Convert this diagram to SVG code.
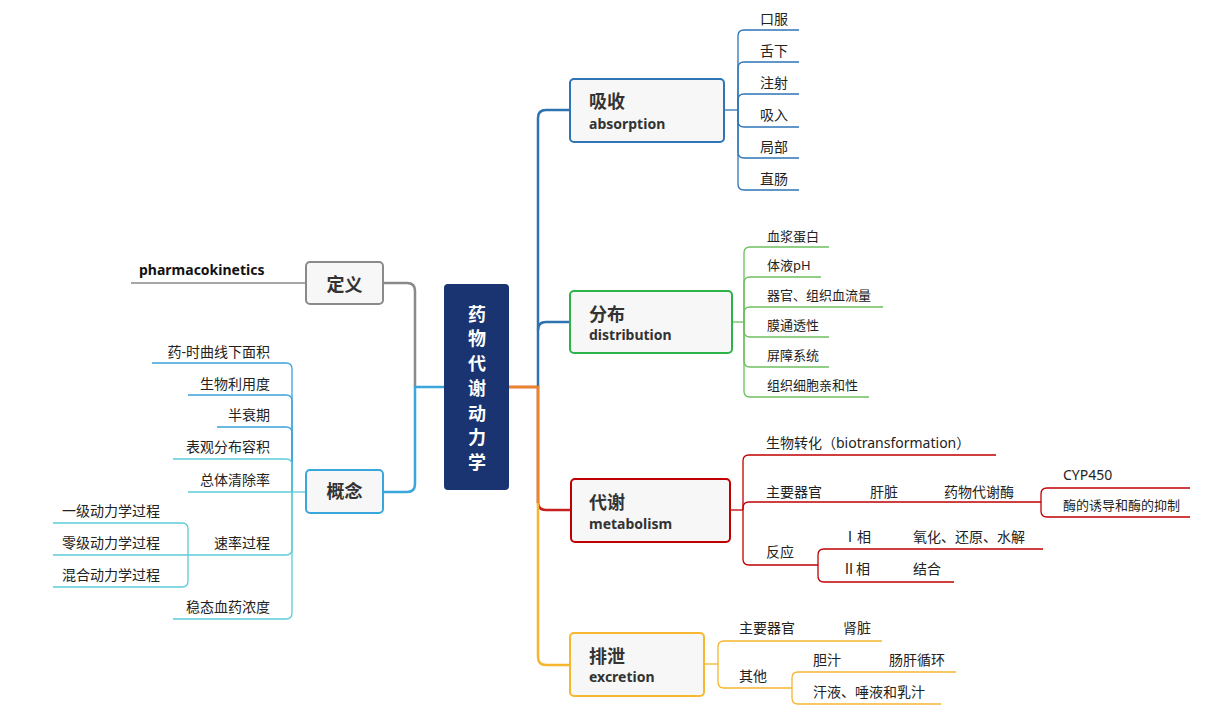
<svg xmlns="http://www.w3.org/2000/svg" width="1205" height="719" viewBox="0 0 1205 719">
<style>
text{font-family:"Noto Sans","Noto Sans CJK SC",sans-serif;fill:#222}
.leaf{font-size:14px}
.small{font-size:13px}
.t1{font-size:18px;font-weight:bold;fill:#333}
.t2{font-size:14px;font-weight:bold;fill:#333}
.box{fill:#f7f7f7;stroke-width:2}
.ln{fill:none;stroke-width:1.3}
.tr{fill:none;stroke-width:2.5}
.end{text-anchor:end}
</style>
<rect width="1205" height="719" fill="#fff"/>
<g id="connectors">
  <!-- trunk right -->
  <path class="tr" stroke="#2e72b0" d="M538,387 V118 Q538,110 546,110 H570"/>
  <path class="tr" stroke="#2e72b0" d="M538,330 Q538,322 546,322 H570"/>
  <path class="tr" stroke="#c62020" d="M509,387 H538 V502 Q538,510 546,510 H571"/>
  <path class="tr" stroke="#f5b52e" d="M538,500 V657 Q538,665 546,665 H570"/>
  <path class="tr" stroke="#e8852a" d="M509,387 H538 V503"/>
  <!-- trunk left -->
  <path class="tr" stroke="#8a8a8a" d="M383,283 H407 Q415,283 415,291 V387"/>
  <path class="tr" stroke="#3aa7dc" d="M444,387 H415 V484 Q415,492 407,492 H383"/>
  <!-- absorption leaves -->
  <g stroke="#2e75b6" class="ln">
    <path class="ln" d="M724,110 H738"/>
    <path class="ln" d="M738,110 V36 Q738,30 744,30 H799"/>
    <path class="ln" d="M738,110 V68 Q738,62 744,62 H799"/>
    <path class="ln" d="M738,110 V100 Q738,94 744,94 H799"/>
    <path class="ln" d="M738,110 V121 Q738,127 744,127 H799"/>
    <path class="ln" d="M738,110 V152 Q738,158 744,158 H799"/>
    <path class="ln" d="M738,110 V184 Q738,190 744,190 H799"/>
  </g>
  <!-- distribution leaves -->
  <g stroke="#6dbf5f" class="ln">
    <path class="ln" d="M732,322 H744"/>
    <path class="ln" d="M744,322 V253 Q744,247 750,247 H829"/>
    <path class="ln" d="M744,322 V283 Q744,277 750,277 H821"/>
    <path class="ln" d="M744,322 V313 Q744,307 750,307 H883"/>
    <path class="ln" d="M744,322 V331 Q744,337 750,337 H829"/>
    <path class="ln" d="M744,322 V361 Q744,367 750,367 H829"/>
    <path class="ln" d="M744,322 V391 Q744,397 750,397 H869"/>
  </g>
  <!-- metabolism -->
  <g stroke="#c00000" class="ln">
    <path class="ln" d="M730,510 H743"/>
    <path class="ln" d="M743,510 V461 Q743,455 749,455 H996"/>
    <path class="ln" d="M743,510 V508 Q743,502 749,502 H1041"/>
    <path class="ln" d="M743,510 V559 Q743,565 749,565 H818"/>
    <path class="ln" d="M1041,502 V494 Q1041,488 1047,488 H1190"/>
    <path class="ln" d="M1041,502 V511 Q1041,517 1047,517 H1190"/>
    <path class="ln" d="M818,565 V555 Q818,549 824,549 H1043"/>
    <path class="ln" d="M818,565 V576 Q818,582 824,582 H954"/>
  </g>
  <!-- excretion -->
  <g stroke="#f5b52e" class="ln">
    <path class="ln" d="M704,664 H718"/>
    <path class="ln" d="M718,664 V647 Q718,641 724,641 H882"/>
    <path class="ln" d="M718,664 V682 Q718,688 724,688 H792"/>
    <path class="ln" d="M792,688 V678 Q792,672 798,672 H956"/>
    <path class="ln" d="M792,688 V698 Q792,704 798,704 H941"/>
  </g>
  <!-- definition -->
  <path class="ln" stroke="#8a8a8a" d="M306,283 H131"/>
  <!-- concept leaves -->
  <g class="ln">
    <path class="ln" stroke="#5ccbd8" d="M306,492 H292"/>
    <path class="ln" stroke="#3aa3dc" d="M292,492 V369 Q292,363 286,363 H152"/>
    <path class="ln" stroke="#3aa3dc" d="M292,492 V401 Q292,395 286,395 H188"/>
    <path class="ln" stroke="#3aa3dc" d="M292,492 V433 Q292,427 286,427 H217"/>
    <path class="ln" stroke="#5ccbd8" d="M292,492 V465 Q292,459 286,459 H173"/>
    <path class="ln" stroke="#5ccbd8" d="M292,492 H188"/>
    <path class="ln" stroke="#5ccbd8" d="M292,492 V549 Q292,555 286,555 H188"/>
    <path class="ln" stroke="#5ccbd8" d="M292,492 V613 Q292,619 286,619 H173"/>
    <path class="ln" stroke="#5ccbd8" d="M188,555 V529 Q188,523 182,523 H53"/>
    <path class="ln" stroke="#5ccbd8" d="M188,555 H53"/>
    <path class="ln" stroke="#5ccbd8" d="M188,555 V581 Q188,587 182,587 H53"/>
  </g>
</g>
<g id="center">
  <rect x="444" y="284" width="65" height="206" rx="4" fill="#1a3472"/>
  <g font-size="18" font-weight="bold" text-anchor="middle">
    <text x="477" y="321" style="fill:#fff;font-size:18px">药</text>
    <text x="477" y="345" style="fill:#fff;font-size:18px">物</text>
    <text x="477" y="370" style="fill:#fff;font-size:18px">代</text>
    <text x="477" y="395" style="fill:#fff;font-size:18px">谢</text>
    <text x="477" y="420" style="fill:#fff;font-size:18px">动</text>
    <text x="477" y="444" style="fill:#fff;font-size:18px">力</text>
    <text x="477" y="469" style="fill:#fff;font-size:18px">学</text>
  </g>
</g>
<g id="absorption">
  <rect class="box" x="570" y="79" width="154" height="63" rx="4" stroke="#2e75b6"/>
  <text class="t1" x="589" y="108">吸收</text>
  <text class="t2" x="589" y="129">absorption</text>
</g>
<g id="absorption-leaves">
  <text class="leaf" x="760" y="24">口服</text>
  <text class="leaf" x="760" y="56">舌下</text>
  <text class="leaf" x="760" y="88">注射</text>
  <text class="leaf" x="760" y="120">吸入</text>
  <text class="leaf" x="760" y="152">局部</text>
  <text class="leaf" x="760" y="184">直肠</text>
</g>
<g id="distribution">
  <rect class="box" x="570" y="291" width="162" height="62" rx="4" stroke="#2db34a"/>
  <text class="t1" x="589" y="321">分布</text>
  <text class="t2" x="589" y="340">distribution</text>
</g>
<g id="distribution-leaves">
  <text class="small" x="767" y="241">血浆蛋白</text>
  <text class="small" x="767" y="270">体液pH</text>
  <text class="small" x="767" y="300">器官、组织血流量</text>
  <text class="small" x="767" y="330">膜通透性</text>
  <text class="small" x="767" y="360">屏障系统</text>
  <text class="small" x="767" y="390">组织细胞亲和性</text>
</g>
<g id="metabolism">
  <rect class="box" x="571" y="479" width="159" height="63" rx="4" stroke="#c00000"/>
  <text class="t1" x="589" y="509">代谢</text>
  <text class="t2" x="589" y="529">metabolism</text>
</g>
<g id="metabolism-leaves">
  <text class="leaf" x="766" y="448">生物转化（biotransformation）</text>
  <text class="leaf" x="766" y="497">主要器官</text>
  <text class="leaf" x="870" y="497">肝脏</text>
  <text class="leaf" x="944" y="497">药物代谢酶</text>
  <text class="leaf" x="1063" y="480">CYP450</text>
  <text class="small" x="1063" y="510">酶的诱导和酶的抑制</text>
  <text class="leaf" x="766" y="557">反应</text>
  <text class="leaf" x="843" y="542">Ⅰ相</text>
  <text class="leaf" x="913" y="542">氧化、还原、水解</text>
  <text class="leaf" x="842" y="574">Ⅱ相</text>
  <text class="leaf" x="913" y="574">结合</text>
</g>
<g id="excretion">
  <rect class="box" x="570" y="633" width="134" height="63" rx="4" stroke="#f7b731"/>
  <text class="t1" x="589" y="663">排泄</text>
  <text class="t2" x="589" y="682">excretion</text>
</g>
<g id="excretion-leaves">
  <text class="leaf" x="739" y="633">主要器官</text>
  <text class="leaf" x="843" y="633">肾脏</text>
  <text class="leaf" x="739" y="681">其他</text>
  <text class="leaf" x="813" y="665">胆汁</text>
  <text class="leaf" x="889" y="665">肠肝循环</text>
  <text class="leaf" x="813" y="697">汗液、唾液和乳汁</text>
</g>
<g id="definition">
  <rect class="box" x="306" y="262" width="77" height="42" rx="4" stroke="#8a8a8a"/>
  <text class="t1" x="344.5" y="291" text-anchor="middle">定义</text>
  <text class="t2" x="139" y="275" style="fill:#111">pharmacokinetics</text>
</g>
<g id="concept">
  <rect class="box" x="306" y="470" width="77" height="43" rx="4" stroke="#3aa7dc"/>
  <text class="t1" x="344.5" y="498" text-anchor="middle">概念</text>
</g>
<g id="concept-leaves">
  <text class="leaf end" x="270" y="357">药-时曲线下面积</text>
  <text class="leaf end" x="270" y="389">生物利用度</text>
  <text class="leaf end" x="270" y="420">半衰期</text>
  <text class="leaf end" x="270" y="452">表观分布容积</text>
  <text class="leaf end" x="270" y="485">总体清除率</text>
  <text class="leaf end" x="270" y="548">速率过程</text>
  <text class="leaf end" x="270" y="612">稳态血药浓度</text>
  <text class="leaf" x="62" y="516">一级动力学过程</text>
  <text class="leaf" x="62" y="548">零级动力学过程</text>
  <text class="leaf" x="62" y="580">混合动力学过程</text>
</g>
</svg>
